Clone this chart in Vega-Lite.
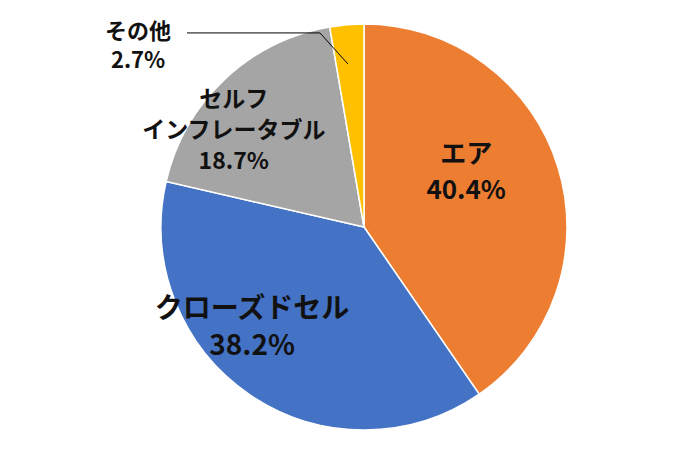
{
  "$schema": "https://vega.github.io/schema/vega-lite/v6.json",
  "width": 600,
  "height": 454,
  "autosize": {"type": "none"},
  "padding": {"left": 64, "top": 0, "right": 0, "bottom": 0},
  "background": "white",
  "config": {"view": {"stroke": null}},
  "data": {"values": [
    {"cat": "エア", "share": 40.4, "ord": 1, "label": "エア\n40.4%"},
    {"cat": "クローズドセル", "share": 38.2, "ord": 2, "label": "クローズドセル\n38.2%"},
    {"cat": "セルフインフレータブル", "share": 18.7, "ord": 3, "label": "セルフ\nインフレータブル\n18.7%"},
    {"cat": "その他", "share": 2.7, "ord": 4, "label": "その他\n2.7%"}
  ]},
  "layer": [
    {
      "mark": {"type": "arc", "outerRadius": 203, "stroke": "white", "strokeWidth": 1.5},
      "encoding": {
        "theta": {"field": "share", "type": "quantitative", "stack": true},
        "order": {"field": "ord", "type": "quantitative"},
        "color": {"field": "cat", "type": "nominal", "legend": null,
          "scale": {"domain": ["エア", "クローズドセル", "セルフインフレータブル", "その他"],
                    "range": ["#ED7D31", "#4472C4", "#A5A5A5", "#FFC000"]}}
      }
    },
    {
      "mark": {"type": "text", "radius": 108, "dx": -1, "dy": -40, "font": "Noto Sans CJK JP", "fontWeight": "bold", "fontSize": 26, "lineBreak": "\n", "lineHeight": 36, "align": "center", "baseline": "middle", "color": "#111111"},
      "encoding": {
        "theta": {"field": "share", "type": "quantitative", "stack": true},
        "order": {"field": "ord", "type": "quantitative"},
        "text": {"field": "label", "type": "nominal"},
        "opacity": {"condition": {"test": "datum.cat === 'エア'", "value": 1}, "value": 0}
      }
    },
    {
      "mark": {"type": "text", "radius": 144, "dx": -31, "dy": -36, "font": "Noto Sans CJK JP", "fontWeight": "bold", "fontSize": 28, "lineBreak": "\n", "lineHeight": 37, "align": "center", "baseline": "middle", "color": "#111111"},
      "encoding": {
        "theta": {"field": "share", "type": "quantitative", "stack": true},
        "order": {"field": "ord", "type": "quantitative"},
        "text": {"field": "label", "type": "nominal"},
        "opacity": {"condition": {"test": "datum.cat === 'クローズドセル'", "value": 1}, "value": 0}
      }
    },
    {
      "mark": {"type": "text", "radius": 159, "dx": -21, "dy": -11, "font": "Noto Sans CJK JP", "fontWeight": "bold", "fontSize": 23, "lineBreak": "\n", "lineHeight": 31, "align": "center", "baseline": "middle", "color": "#111111"},
      "encoding": {
        "theta": {"field": "share", "type": "quantitative", "stack": true},
        "order": {"field": "ord", "type": "quantitative"},
        "text": {"field": "label", "type": "nominal"},
        "opacity": {"condition": {"test": "datum.cat === 'セルフインフレータブル'", "value": 1}, "value": 0}
      }
    },
    {
      "mark": {"type": "text", "radius": 200, "dx": -209, "dy": 4, "font": "Noto Sans CJK JP", "fontWeight": "bold", "fontSize": 22, "lineBreak": "\n", "lineHeight": 29, "align": "center", "baseline": "middle", "color": "#111111"},
      "encoding": {
        "theta": {"field": "share", "type": "quantitative", "stack": true},
        "order": {"field": "ord", "type": "quantitative"},
        "text": {"field": "label", "type": "nominal"},
        "opacity": {"condition": {"test": "datum.cat === 'その他'", "value": 1}, "value": 0}
      }
    },
    {
      "data": {"values": [
        {"u": -0.872, "v": 0.956, "i": 0},
        {"u": -0.217, "v": 0.956, "i": 1},
        {"u": -0.079, "v": 0.803, "i": 2}
      ]},
      "mark": {"type": "line", "color": "#000000", "strokeWidth": 1},
      "encoding": {
        "x": {"field": "u", "type": "quantitative", "axis": null, "scale": {"domain": [-1.4778, 1.4778], "nice": false, "zero": false}},
        "y": {"field": "v", "type": "quantitative", "axis": null, "scale": {"domain": [-1.1182, 1.1182], "nice": false, "zero": false}},
        "order": {"field": "i", "type": "quantitative"}
      }
    }
  ]
}
